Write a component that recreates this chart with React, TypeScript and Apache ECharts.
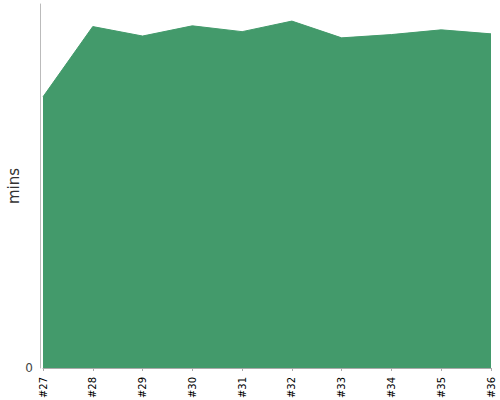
import React, { useEffect, useRef } from "react";
import * as echarts from "echarts";

const categories = ["#27", "#28", "#29", "#30", "#31", "#32", "#33", "#34", "#35", "#36"];
const minsValues = [74.5, 93.8, 91.2, 94.0, 92.4, 95.3, 90.7, 91.6, 92.9, 91.8];
const yMax = 100;

export default function App() {
  const ref = useRef<HTMLDivElement>(null);
  useEffect(() => {
    const chart = echarts.init(ref.current!, undefined, { renderer: "svg" });
    const font = "'DejaVu Sans', sans-serif";
    chart.setOption({
      animation: false,
      textStyle: { fontFamily: font },
      grid: { left: 43, right: 9, top: 4, bottom: 32, containLabel: false, outerBoundsMode: "none" },
      xAxis: {
        type: "category",
        data: categories,
        boundaryGap: false,
        offset: 4,
        axisLine: { lineStyle: { color: "#aaa", width: 1 } },
        axisTick: { show: true, length: 3, alignWithLabel: true, lineStyle: { color: "#aaa" } },
        axisLabel: { rotate: 90, fontSize: 10, color: "#000", margin: 5, fontFamily: font, interval: 0 },
        splitLine: { show: false },
      },
      yAxis: {
        type: "value",
        min: 0,
        max: yMax,
        interval: yMax,
        offset: 3,
        name: "mins",
        nameLocation: "middle",
        nameGap: 19,
        nameMoveOverlap: false,
        nameTextStyle: { fontSize: 15, color: "#333", fontFamily: font },
        axisLine: { show: true, lineStyle: { color: "#bbb", width: 1 } },
        axisTick: { show: false },
        axisLabel: {
          fontSize: 12,
          color: "#444",
          margin: 7,
          fontFamily: font,
          formatter: (v: number) => (v === 0 ? "0" : ""),
        },
        splitLine: { show: false },
      },
      series: [
        {
          type: "line",
          data: minsValues,
          symbol: "none",
          lineStyle: { color: "#439a6b", width: 1 },
          areaStyle: { color: "#439a6b", opacity: 1 },
          itemStyle: { color: "#439a6b" },
        },
      ],
    });
    return () => chart.dispose();
  }, []);
  return <div ref={ref} style={{ width: 500, height: 400, position: "absolute", left: 0, top: 0 }} />;
}
